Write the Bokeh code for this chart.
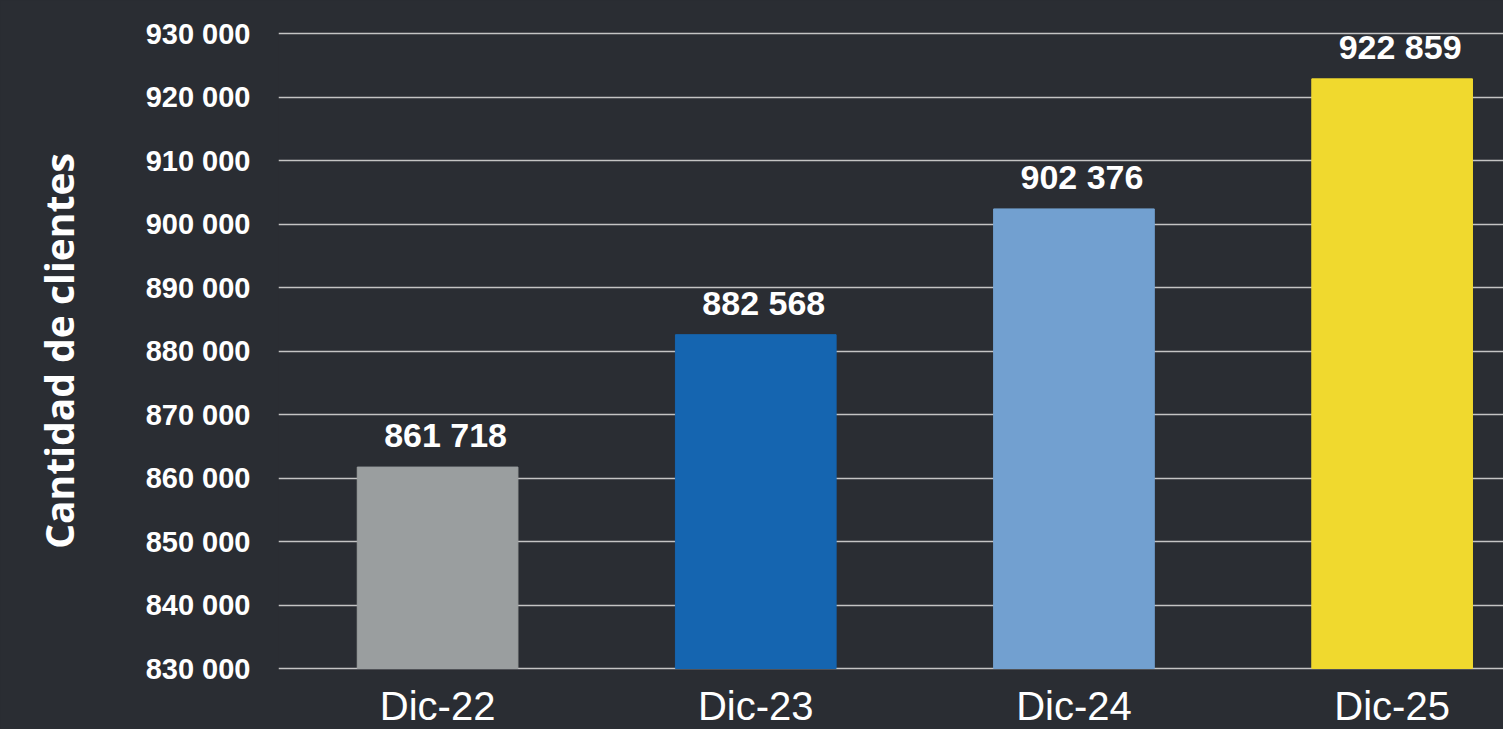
from bokeh.plotting import figure
from bokeh.layouts import column
from bokeh.models import Range1d, FixedTicker, CustomJSTickFormatter, ColumnDataSource, LabelSet
from bokeh.core.properties import value
from bokeh.embed import file_html
from bokeh.resources import INLINE

categories = ["Dic-22", "Dic-23", "Dic-24", "Dic-25"]
clientes = [861718, 882568, 902376, 922859]
colors = ["#9a9e9f", "#1565b0", "#72a0d0", "#f0d92e"]
y_ticks = [830000, 840000, 850000, 860000, 870000, 880000, 890000, 900000, 910000, 920000, 930000]
y_start, y_end = 830000, 930000

def fmt(v):
    return f"{v:,}".replace(",", " ")

xpos = [i + 0.5 for i in range(len(categories))]
src = ColumnDataSource(dict(x=xpos, top=clientes, color=colors,
                            label=[fmt(v) for v in clientes]))

# small padding so the first/last gridlines are not clipped at the frame edge
PAD_PX = 2
FRAME_H = 635 + 2 * PAD_PX
pad = PAD_PX * (y_end - y_start) / 635

BG = "#2a2d33"
p = figure(frame_width=1225, frame_height=FRAME_H, output_backend="svg", toolbar_location=None,
           x_range=Range1d(0, 3.85), y_range=Range1d(y_start - pad, y_end + pad),
           background_fill_color=BG, border_fill_color=BG,
           min_border_left=278, min_border_right=0, min_border_top=33 - PAD_PX, min_border_bottom=0)
p.outline_line_color = None

p.vbar(x="x", top="top", bottom=y_start, width=0.505, color="color", source=src)

# value labels
p.add_layout(LabelSet(x="x", y="top", text="label", source=src, x_offset=8, y_offset=20,
                      text_align="center", text_baseline="alphabetic",
                      text_font=value("Liberation Sans"), text_font_style="bold",
                      text_font_size="34px", text_color="white"))

# x axis (categories)
p.xaxis.ticker = FixedTicker(ticks=xpos)
p.xaxis.major_label_overrides = {x: c for x, c in zip(xpos, categories)}
p.xaxis.axis_line_color = None
p.xaxis.major_tick_line_color = None
p.xaxis.minor_tick_line_color = None
p.xaxis.major_tick_out = 0
p.xaxis.major_tick_in = 0
p.xaxis.minor_tick_out = 0
p.xaxis.major_label_text_font = "Liberation Sans"
p.xaxis.major_label_text_font_size = "40px"
p.xaxis.major_label_text_color = "white"
p.xaxis.major_label_standoff = 13
p.xgrid.grid_line_color = None

# y axis
p.yaxis.ticker = FixedTicker(ticks=y_ticks)
p.yaxis.formatter = CustomJSTickFormatter(code="""
return Math.round(tick).toString().replace(/\\B(?=(\\d{3})+(?!\\d))/g, ' ');
""")
p.yaxis.axis_line_color = None
p.yaxis.major_tick_line_color = None
p.yaxis.minor_tick_line_color = None
p.yaxis.major_tick_out = 0
p.yaxis.major_tick_in = 0
p.yaxis.minor_tick_out = 0
p.yaxis.major_label_text_font = "Liberation Sans"
p.yaxis.major_label_text_font_style = "bold"
p.yaxis.major_label_text_font_size = "29px"
p.yaxis.major_label_text_color = "white"
p.yaxis.major_label_standoff = 28
p.yaxis.axis_label = "Cantidad de clientes"
p.yaxis.axis_label_text_font = "Open Sans"
p.yaxis.axis_label_text_font_style = "bold"
p.yaxis.axis_label_text_font_size = "39px"
p.yaxis.axis_label_text_color = "white"
p.yaxis.axis_label_standoff = 58
p.ygrid.grid_line_color = "#c4c4c4"
p.ygrid.grid_line_width = 1.5

page = column(p, styles={"background-color": BG})
open("out.html", "w").write(file_html(page, INLINE))
